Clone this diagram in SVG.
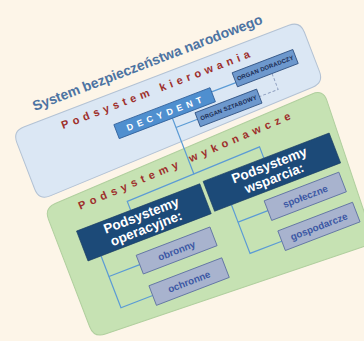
<svg xmlns="http://www.w3.org/2000/svg" width="364" height="341" viewBox="0 0 364 341">
<style>
.t{font-family:"Liberation Sans",Arial,sans-serif;font-weight:bold}
.red{fill:#9e2f2c;font-size:11px}
.nav{fill:#1c4a78;stroke:#173a60;stroke-width:0.6}
.navt{fill:#ffffff;font-size:13.5px;text-anchor:middle}
.org{fill:#6d98cd;stroke:#2d4f80;stroke-width:0.8}
.orgt{fill:#1a2b52;font-size:6px;text-anchor:middle}
.sub{fill:#a8b3ce;stroke:#5a6da0;stroke-width:0.8}
.subt{fill:#3c58a4;font-size:9.8px;text-anchor:middle}
.con{stroke:#5b9bd5;stroke-width:1.2;fill:none}
.dash{stroke:#8a9bbc;stroke-width:0.9;fill:none;stroke-dasharray:3 2}
</style>
<rect width="364" height="341" fill="#fdf5e8"/>
<g transform="translate(18,140) rotate(-21)">
  <g id="title">
    <text class="t" x="26" y="-21" font-size="14" fill="#4c73a2" textLength="245">System bezpieczeństwa narodowego</text>
  </g>
  <g id="podsystem-kierowania">
    <path d="M10,-10 L294,-10 Q306,-10 306,2 L306,44 Q306,56 294,56.3 L10,63.7 Q-2,64 -2,52 L-2,2 Q-2,-10 10,-10 Z" fill="#dbe7f4" stroke="#b3c2d4" stroke-width="1"/>
    <text class="t red" x="46" y="6" textLength="206" letter-spacing="5">Podsystem kierowania</text>
  </g>
  <g id="podsystemy-wykonawcze">
    <path d="M12,72.6 L291,62.4 Q303,62 302.5,74 L296.5,212 Q296,224 284,223.3 L12,212.5 Q0,212 0,200 L0,85 Q0,73 12,72.6 Z" fill="#c6e2b3" stroke="#b0cf9e" stroke-width="1"/>
    <text class="t red" x="33" y="87.5" textLength="235" letter-spacing="5" transform="rotate(-2.3 33 87.5)">Podsystemy wykonawcze</text>
  </g>
  <g id="connectors">
    <line class="con" x1="198" y1="24.5" x2="224" y2="24.5"/>
    <line class="con" x1="152" y1="35" x2="152" y2="95"/>
    <line class="con" x1="152" y1="45" x2="175" y2="45"/>
    <polyline class="dash" points="261,29 261,46 241,46"/>
    <polyline class="con" points="80,106 80,96.5 223,93 223,105"/>
    <polyline class="con" points="69,160 36,160 36,193.5 70,193.5"/>
    <line class="con" x1="36" y1="138" x2="36" y2="160"/>
    <polyline class="con" points="208,155.5 176,155.5 176,189 210,189"/>
    <line class="con" x1="176" y1="137" x2="176" y2="155.5"/>
  </g>
  <g id="decydent">
    <rect x="95" y="20" width="103" height="15" fill="#4f8fcf" stroke="#2f5f9a" stroke-width="0.8"/>
    <text class="t" x="106" y="31" font-size="9" fill="#ffffff" textLength="84" letter-spacing="4">DECYDENT</text>
  </g>
  <g id="organ-doradczy">
    <rect class="org" x="224" y="14" width="65" height="15"/>
    <text class="t orgt" x="256.5" y="23.5" textLength="60">ORGAN DORADCZY</text>
  </g>
  <g id="organ-sztabowy">
    <rect class="org" x="175" y="38" width="66" height="15"/>
    <text class="t orgt" x="208" y="47.5" textLength="60">ORGAN SZTABOWY</text>
  </g>
  <g id="podsystemy-operacyjne">
    <rect class="nav" x="22" y="106" width="132" height="32"/>
    <text class="t navt" x="88" y="119">Podsystemy</text>
    <text class="t navt" x="88" y="133">operacyjne:</text>
  </g>
  <g id="podsystemy-wsparcia">
    <rect class="nav" x="158" y="105" width="135" height="32"/>
    <text class="t navt" x="225.5" y="118">Podsystemy</text>
    <text class="t navt" x="225.5" y="132">wsparcia:</text>
  </g>
  <g id="obronny">
    <rect class="sub" x="69" y="150" width="79" height="20"/>
    <text class="t subt" x="108.5" y="163.5">obronny</text>
  </g>
  <g id="ochronne">
    <rect class="sub" x="70" y="183" width="78" height="21"/>
    <text class="t subt" x="109" y="197">ochronne</text>
  </g>
  <g id="spoleczne">
    <rect class="sub" x="208" y="145" width="80" height="21"/>
    <text class="t subt" x="248" y="159">społeczne</text>
  </g>
  <g id="gospodarcze">
    <rect class="sub" x="210" y="178" width="80" height="21"/>
    <text class="t subt" x="250" y="192">gospodarcze</text>
  </g>
</g>
</svg>
